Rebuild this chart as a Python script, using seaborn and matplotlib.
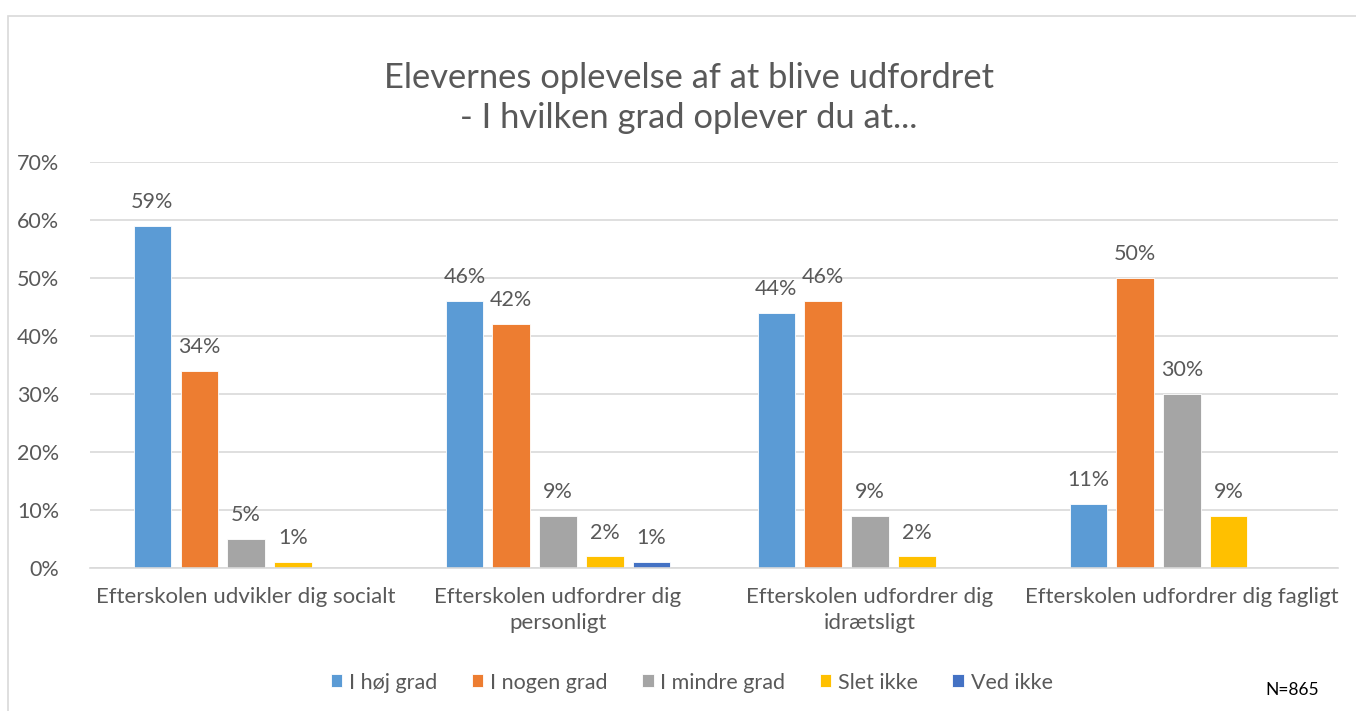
import pandas as pd
import matplotlib.pyplot as plt
import seaborn as sns
from matplotlib.patches import Rectangle

categories = ['Efterskolen udvikler dig socialt',
              'Efterskolen udfordrer dig\npersonligt',
              'Efterskolen udfordrer dig\nidrætsligt',
              'Efterskolen udfordrer dig fagligt']
series = ['I høj grad', 'I nogen grad', 'I mindre grad', 'Slet ikke', 'Ved ikke']
hoej = [59, 46, 44, 11]
nogen = [34, 42, 46, 50]
mindre = [5, 9, 9, 30]
slet = [1, 2, 2, 9]
ved = [0, 1, 0, 0]
colors = ['#5B9BD5', '#ED7D31', '#A5A5A5', '#FFC000', '#4472C4']

rows = []
for name, vals in zip(series, [hoej, nogen, mindre, slet, ved]):
    for cat, v in zip(categories, vals):
        rows.append({'kategori': cat, 'svar': name, 'pct': v})
df = pd.DataFrame(rows)

sns.set_style('white')
plt.rcParams['font.family'] = ['Lato', 'DejaVu Sans']
grey = '#595959'

fig = plt.figure(figsize=(13.56, 7.11), dpi=100)
ax = fig.add_axes([0.0664, 0.2011, 0.9203, 0.5711])

sns.barplot(data=df, x='kategori', y='pct', hue='svar', palette=colors, saturation=1,
            width=0.75, gap=0.2, ax=ax, legend=True, edgecolor='white', linewidth=0.6)

for cont in ax.containers:
    labels = [f'{v:.0f}%' if v > 0 else '' for v in cont.datavalues]
    ax.bar_label(cont, labels=labels, padding=10, fontsize=15.5, color=grey)

ax.set_ylim(0, 70)
ax.set_yticks(range(0, 71, 10))
ax.set_yticklabels([f'{t}%' for t in range(0, 71, 10)], fontsize=15.5, color=grey)
ax.set_xticks(range(len(categories)))
ax.set_xticklabels(categories, fontsize=16, color=grey, linespacing=1.35)
ax.tick_params(axis='x', length=0, pad=14)
ax.tick_params(axis='y', length=0, pad=22)
ax.set_xlabel('')
ax.set_ylabel('')
ax.grid(axis='y', color='#D9D9D9', linewidth=1.2)
ax.set_axisbelow(True)
for s in ['top', 'right', 'left']:
    ax.spines[s].set_visible(False)
ax.spines['bottom'].set_color('#D9D9D9')
ax.spines['bottom'].set_linewidth(1.2)

ax.legend(loc='center', bbox_to_anchor=(0.51, 0.04), bbox_transform=fig.transFigure,
          ncol=5, frameon=False, fontsize=15.5, labelcolor=grey,
          handlelength=0.55, handleheight=0.55, handletextpad=0.3, columnspacing=1.6)

fig.text(0.508, 0.862, 'Elevernes oplevelse af at blive udfordret\n- I hvilken grad oplever du at...',
         ha='center', va='center', fontsize=24.8, color=grey, linespacing=1.3)
fig.text(0.953, 0.03, 'N=865', ha='center', va='center', fontsize=12.5, color='black')

fig.patches.append(Rectangle((8 / 1356, -0.01), 1.0, 1 - 16 / 711 + 0.01,
                             transform=fig.transFigure, fill=False,
                             edgecolor='#D9D9D9', linewidth=1.2))

fig.savefig('out.png', dpi=100)
